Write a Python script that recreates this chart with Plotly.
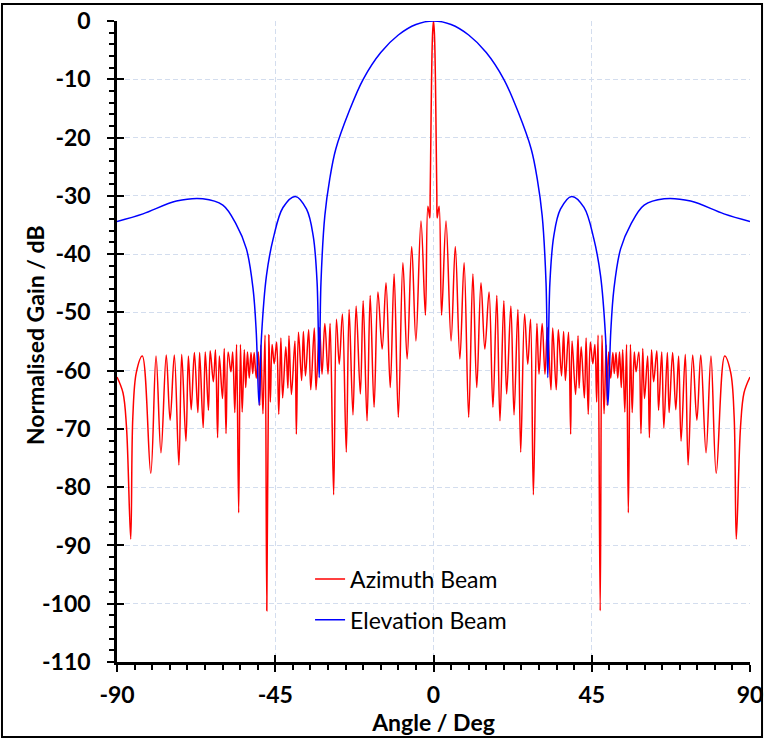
import plotly.graph_objects as go

# ---------------- data ----------------
# Azimuth beam (red): lobe peaks and nulls, negative side
az_angle_neg = [-90.0, -88.3, -87.3, -86.1, -85.5, -84.5, -82.8, -80.4, -78.9, -77.5, -76.0, -74.9,
                -73.7, -72.4, -71.6, -70.4, -69.7, -68.9, -68.0, -67.0, -66.5, -65.5, -64.9, -64.0,
                -63.5, -62.6, -62.0, -61.4, -60.9, -60.0, -59.5, -59.0, -58.4, -57.6, -57.1, -56.5,
                -56.0, -55.4, -54.9, -54.4, -53.8, -53.4, -52.9, -52.4, -51.9, -51.4, -51.0, -50.4,
                -49.8, -49.4, -49.1, -48.5, -47.9, -47.4, -46.8, -46.4, -45.9, -45.3, -44.6, -44.0,
                -43.4, -42.9, -42.0, -41.4, -41.1, -40.4, -39.4, -39.0, -38.4, -37.5, -37.0, -36.4,
                -35.5, -34.9, -33.9, -33.4, -32.4, -31.7, -30.9, -30.0, -29.4, -28.4, -27.6, -26.8,
                -25.9, -24.8, -24.0, -22.9, -22.0, -20.8, -20.0, -18.9, -18.0, -16.9, -15.8, -14.6,
                -13.5, -12.3, -11.2, -10.0, -8.7, -7.5, -6.2, -5.0, -3.56, -2.3, -1.6, -1.05,
                -0.95, -0.75, -0.55, -0.25]
az_gain_neg = [-61.1, -63.8, -69.7, -88.9, -68.0, -60.3, -57.5, -77.6, -57.5, -74.1, -57.3, -68.5,
               -57.3, -76.2, -57.2, -72.1, -57.5, -66.7, -56.9, -67.2, -56.9, -69.8, -56.8, -66.8,
               -56.6, -61.9, -56.4, -71.5, -57.5, -64.8, -56.2, -70.8, -56.8, -60.2, -56.8, -67.2,
               -55.5, -84.4, -55.5, -67.1, -56.4, -62.9, -56.8, -61.3, -56.9, -60.5, -56.9, -61.3,
               -56.8, -66.0, -55.6, -67.4, -53.9, -101.2, -53.9, -65.4, -55.5, -58.8, -55.1, -67.5,
               -54.4, -64.7, -55.9, -63.0, -54.0, -64.1, -54.9, -70.9, -53.4, -61.7, -53.3, -60.9,
               -53.0, -63.3, -52.7, -63.3, -52.6, -60.6, -51.9, -60.6, -51.9, -81.3, -51.2, -58.9,
               -50.3, -74.0, -49.5, -67.6, -48.9, -64.0, -48.0, -68.6, -47.1, -66.3, -46.5, -56.3,
               -44.9, -62.9, -43.4, -68.0, -41.5, -58.0, -38.7, -54.9, -34.3, -50.5, -31.8, -33.8,
               -30.0, -20.0, -10.0, -2.0]
# Azimuth beam, positive side (from boresight outwards)
az_angle_pos = [0.0, 0.25, 0.55, 0.75, 0.95, 1.05, 1.6, 2.3, 3.56, 5.0, 6.2, 7.5,
                8.7, 10.0, 11.2, 12.3, 13.5, 14.6, 15.8, 16.9, 18.0, 18.9, 20.0, 20.8,
                22.0, 22.9, 24.0, 24.8, 25.9, 26.8, 27.6, 28.4, 29.4, 30.0, 30.9, 31.7,
                32.4, 33.4, 33.9, 34.9, 35.5, 36.4, 37.0, 37.5, 38.4, 39.0, 39.4, 40.4,
                41.1, 41.4, 42.0, 42.9, 43.4, 44.0, 44.6, 45.3, 45.9, 46.4, 46.8, 47.4,
                47.9, 48.5, 49.1, 49.4, 49.8, 50.4, 51.0, 51.4, 51.9, 52.4, 52.9, 53.4,
                53.8, 54.4, 54.9, 55.4, 56.0, 56.5, 57.1, 57.6, 58.4, 59.0, 59.5, 60.0,
                60.9, 61.4, 62.0, 62.6, 63.5, 64.0, 64.9, 65.5, 66.5, 67.0, 68.0, 68.9,
                69.7, 70.4, 71.6, 72.4, 73.7, 74.9, 76.0, 77.5, 78.9, 80.4, 82.8, 84.5,
                85.5, 86.1, 87.3, 88.3, 90.0]
az_gain_pos = [0.0, -2.0, -10.0, -20.0, -30.0, -33.8, -31.8, -50.5, -34.3, -54.9, -38.7, -58.0,
               -41.5, -68.0, -43.4, -62.9, -44.9, -56.3, -46.5, -66.3, -47.1, -68.6, -48.0, -64.0,
               -48.9, -67.6, -49.5, -74.0, -50.3, -58.9, -51.2, -81.3, -51.9, -60.6, -51.9, -60.6,
               -52.6, -63.3, -52.7, -63.3, -53.0, -60.9, -53.3, -61.7, -53.4, -70.9, -54.9, -64.1,
               -54.0, -63.0, -55.9, -64.7, -54.4, -67.5, -55.1, -58.8, -55.5, -65.4, -53.9, -101.2,
               -53.9, -67.4, -55.6, -66.0, -56.8, -61.3, -56.9, -60.5, -56.9, -61.3, -56.8, -62.9,
               -56.4, -67.1, -55.5, -84.4, -55.5, -67.2, -56.8, -60.2, -56.8, -70.8, -56.2, -64.8,
               -57.5, -71.5, -56.4, -61.9, -56.6, -66.8, -56.8, -69.8, -56.9, -67.2, -56.9, -66.7,
               -57.5, -72.1, -57.2, -76.2, -57.3, -68.5, -57.3, -74.1, -57.5, -77.6, -57.5, -60.3,
               -68.0, -88.9, -69.7, -63.8, -61.1]

# Elevation beam (blue)
el_angle_neg = [-90.0, -82.6, -73.1, -65.6, -59.9, -56.1, -53.2, -51.3, -50.4, -49.6, -48.9, -47.5,
                -45.6, -42.8, -39.3, -36.1, -34.2, -33.1, -32.5, -32.0, -30.9, -29.5, -27.8, -24.0,
                -20.0, -15.0, -10.0, -5.0]
el_gain_neg = [-34.4, -33.1, -30.9, -30.5, -31.6, -34.9, -39.1, -46.0, -53.4, -65.9, -54.0, -43.7,
               -37.4, -32.0, -30.1, -32.3, -36.9, -44.9, -61.2, -44.9, -33.4, -27.1, -22.0, -15.5,
               -10.0, -5.4, -2.4, -0.6]
el_angle_pos = [0.0, 5.0, 10.0, 15.0, 20.0, 24.0, 27.8, 29.5, 30.9, 32.0, 32.5, 33.1,
                34.2, 36.1, 39.3, 42.8, 45.6, 47.5, 48.9, 49.6, 50.4, 51.3, 53.2, 56.1,
                59.9, 65.6, 73.1, 82.6, 90.0]
el_gain_pos = [0.0, -0.6, -2.4, -5.4, -10.0, -15.5, -22.0, -27.1, -33.4, -44.9, -61.2, -44.9,
               -36.9, -32.3, -30.1, -32.0, -37.4, -43.7, -54.0, -65.9, -53.4, -46.0, -39.1, -34.9,
               -31.6, -30.5, -30.9, -33.1, -34.4]

x_ticks = [-90, -45, 0, 45, 90]
y_ticks = [0, -10, -20, -30, -40, -50, -60, -70, -80, -90, -100, -110]

az_angle = az_angle_neg + az_angle_pos
az_gain = az_gain_neg + az_gain_pos
el_angle = el_angle_neg + el_angle_pos
el_gain = el_gain_neg + el_gain_pos

# ---------------- figure ----------------
FONT = "Lato"
fig = go.Figure()
fig.add_trace(go.Scatter(x=az_angle, y=az_gain, mode="lines", name="Azimuth Beam",
                         legendgroup="az",
                         line=dict(color="#ff0000", width=1.5, shape="spline", smoothing=1.0)))
fig.add_trace(go.Scatter(x=el_angle, y=el_gain, mode="lines", name="Elevation Beam",
                         legendgroup="el",
                         line=dict(color="#0000ff", width=1.5, shape="spline", smoothing=1.0)))
# helper trace so the overlay axes (inner half of the crossing ticks) are drawn
fig.add_trace(go.Scatter(x=[None], y=[None], xaxis="x2", yaxis="y2", showlegend=False,
                         hoverinfo="skip"))

grid_col = "#d3ddee"
tickfont = dict(family=FONT, size=23, color="black", weight="bold")
titlefont = dict(family=FONT, size=23, color="black", weight="bold")

fig.update_layout(
    width=764, height=740,
    margin=dict(l=117, r=14, t=21, b=78),
    paper_bgcolor="white", plot_bgcolor="white",
    legend=dict(x=0.305, y=0.163, xanchor="left", yanchor="top",
                bgcolor="rgba(0,0,0,0)", traceorder="grouped", tracegroupgap=8,
                font=dict(family=FONT, size=23, color="black")),
    xaxis=dict(range=[-90, 90], tickvals=x_ticks, ticktext=[str(v) for v in x_ticks],
               automargin=False,
               showgrid=True, gridcolor=grid_col, gridwidth=1, griddash="5px,3px",
               zeroline=False, showline=True, linecolor="black", linewidth=2.5,
               ticks="outside", ticklen=7, tickwidth=2, tickcolor="black",
               minor=dict(dtick=5, tick0=-90, ticks="outside", ticklen=5, tickwidth=1.5,
                          tickcolor="black", showgrid=False),
               tickfont=tickfont, ticklabelstandoff=4,
               title=dict(text="Angle / Deg", font=titlefont, standoff=6)),
    yaxis=dict(range=[-110, 0], tickvals=y_ticks, ticktext=[str(v) for v in y_ticks],
               automargin=False,
               showgrid=True, gridcolor=grid_col, gridwidth=1, griddash="5px,3px",
               zeroline=False, showline=True, linecolor="black", linewidth=2.5,
               ticks="outside", ticklen=7, tickwidth=2, tickcolor="black",
               minor=dict(dtick=2, tick0=0, ticks="outside", ticklen=5, tickwidth=1.5,
                          tickcolor="black", showgrid=False),
               tickfont=tickfont, ticklabelstandoff=12),
    xaxis2=dict(range=[-90, 90], overlaying="x", anchor="y2", side="bottom", automargin=False,
                tickvals=x_ticks, ticks="inside", ticklen=7, tickwidth=2, tickcolor="black",
                showticklabels=False, showgrid=False, zeroline=False, showline=False),
    yaxis2=dict(range=[-110, 0], overlaying="y", anchor="x2", side="left", automargin=False,
                tickvals=y_ticks, ticks="inside", ticklen=7, tickwidth=2, tickcolor="black",
                showticklabels=False, showgrid=False, zeroline=False, showline=False),
    annotations=[dict(text="Normalised Gain / dB", xref="paper", yref="paper",
                      x=-0.1295, y=0.51, xanchor="center", yanchor="middle",
                      textangle=-90, showarrow=False, font=titlefont)],
    shapes=[dict(type="rect", xref="paper", yref="paper",
                 x0=-0.1817, x1=1.019, y0=-0.117, y1=1.0265,
                 line=dict(color="black", width=2), fillcolor="rgba(0,0,0,0)", layer="above")],
)

fig.write_html("out.html")
